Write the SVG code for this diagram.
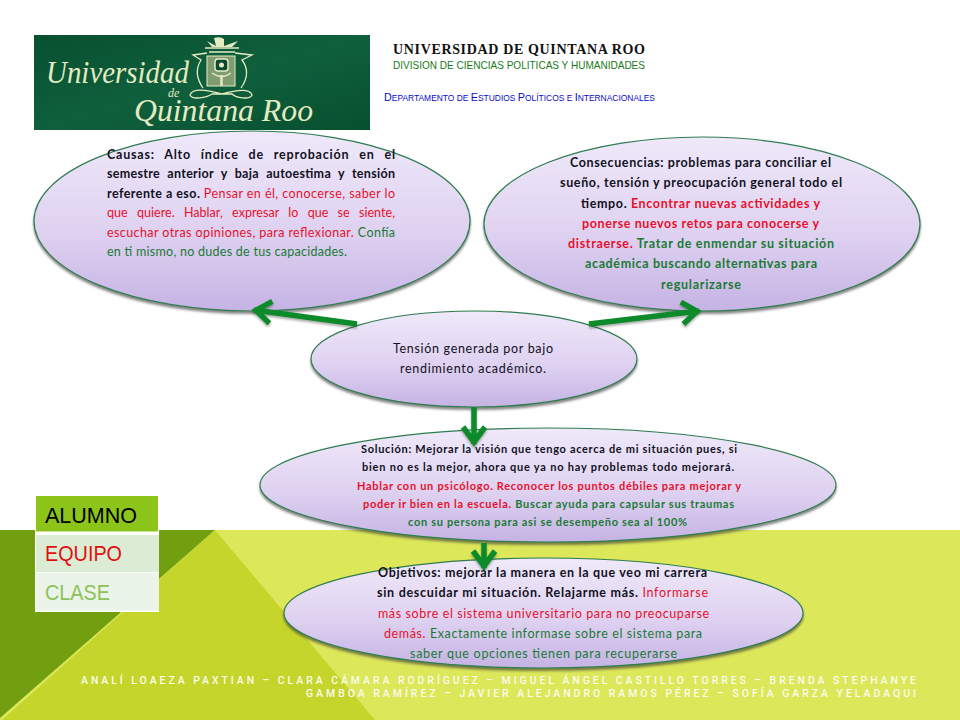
<svg xmlns="http://www.w3.org/2000/svg" width="960" height="720" viewBox="0 0 960 720">
<style>
.t{font-family:"Lato","Noto Sans",sans-serif;font-size:12.5px}
.k{fill:#111122}.r{fill:#e8102c}.g{fill:#1a7a34}
.b{font-weight:700}
.e{fill:url(#lil);stroke:#2f7d50;stroke-width:1.2;filter:url(#sh)}
.cn{fill:none;stroke:#0f8a2c;stroke-width:5.5;marker-end:url(#ah);filter:url(#sa)}
.rowt{font-family:"Liberation Sans",Arial,sans-serif;font-size:21.5px}
.ft{font-family:"Roboto","Liberation Sans",sans-serif;font-size:10.5px;font-weight:500;fill:#fbfbee}
.lg{font-family:"Liberation Serif",serif;font-style:italic;fill:#e4ebc2}
.cr{fill:none;stroke:#e4ebc2;stroke-width:1.3}
</style>
<defs>
<linearGradient id="lil" x1="0" y1="0" x2="0" y2="1"><stop offset="0" stop-color="#efe9fa"/><stop offset=".55" stop-color="#dfd2f1"/><stop offset="1" stop-color="#c5b3e4"/></linearGradient>
<linearGradient id="lgo" x1="0" y1="0" x2="1" y2="1"><stop offset="0" stop-color="#07502f"/><stop offset=".5" stop-color="#0f5f3d"/><stop offset="1" stop-color="#07502f"/></linearGradient>
<filter id="sh" x="-5%" y="-5%" width="110%" height="115%"><feDropShadow dx="0" dy="2.5" stdDeviation="1.3" flood-color="#333" flood-opacity=".6"/></filter>
<filter id="sa" filterUnits="userSpaceOnUse" x="0" y="0" width="960" height="720"><feDropShadow dx="0" dy="2" stdDeviation="1" flood-color="#333" flood-opacity=".4"/></filter>
<marker id="ah" markerUnits="userSpaceOnUse" markerWidth="36" markerHeight="36" refX="28" refY="18" orient="auto"><path d="M11,7 L26,18 L11,29" fill="none" stroke="#0f8a2c" stroke-width="5.500"/></marker>
</defs>
<rect width="960" height="720" fill="#fff"/>
<rect y="530" width="960" height="190" fill="#dce75a"/>
<polygon points="0,530 215,530 0,718" fill="#729f10"/>
<polygon points="215,530 375,720 2,720" fill="#c5d52b"/>

<g id="logo">
<rect x="34" y="35" width="336" height="95" fill="url(#lgo)"/>
<text class="lg" x="46" y="83" font-size="31" textLength="143" lengthAdjust="spacingAndGlyphs">Universidad</text>
<text class="lg" x="168" y="97" font-size="12">de</text>
<text class="lg" x="134" y="121" font-size="32" textLength="179" lengthAdjust="spacingAndGlyphs">Quintana Roo</text>
<path class="cr" d="M205,48 H239 M209,52 H235"/>
<path d="M207,41 L216,46 L214,38 Q220,36 224,39 L224,46 L238,41 L232,47 H212Z" fill="#e4ebc2"/>
<rect x="207" y="56" width="28" height="30" fill="#7f9d70" stroke="#e4ebc2"/>
<rect x="215" y="59" width="13" height="12" rx="3" fill="#0b4a30" stroke="#e4ebc2" stroke-width="1.5"/>
<circle cx="221.500" cy="65" r="2.500" fill="#e4ebc2"/>
<path d="M212,73 Q222,80 231,73" class="cr"/><path d="M221.500,75 V86" stroke="#e4ebc2" stroke-width="2.500"/>
<path class="cr" d="M207,53 L193,55 L201,60 C196,68 196,78 203,88 M235,53 L252,55 L242,60 C248,68 248,78 241,88"/>
<path class="cr" d="M190,95 C192,89 204,89 222,94 C240,89 250,89 252,95 C250,100 236,98 232,94 H212 C206,98 192,100 190,95Z"/>
</g>

<g id="header">
<text x="393" y="54" textLength="252" font-family="'Liberation Serif',serif" font-weight="700" font-size="14" fill="#111">UNIVERSIDAD DE QUINTANA ROO</text>
<text x="393" y="69" textLength="252" lengthAdjust="spacingAndGlyphs" font-family="'Liberation Sans',sans-serif" font-size="10.500" fill="#1a7a1a">DIVISION DE CIENCIAS POLITICAS Y HUMANIDADES</text>
<text x="384" y="101" textLength="271" lengthAdjust="spacingAndGlyphs" font-family="'Liberation Sans',sans-serif" font-size="11.500" fill="#0a0ac8">D<tspan font-size="9">EPARTAMENTO DE </tspan>E<tspan font-size="9">STUDIOS </tspan>P<tspan font-size="9">OLÍTICOS E </tspan>I<tspan font-size="9">NTERNACIONALES</tspan></text>
</g>

<g id="causas">
<ellipse class="e" cx="252" cy="221" rx="218" ry="90"/>
<g class="t">
<text class="k b" x="107" y="159" textLength="288" word-spacing="6">Causas: Alto índice de reprobación en el</text>
<text class="k b" x="107" y="178" textLength="288" word-spacing="4">semestre anterior y baja autoestima y tensión</text>
<text x="107" y="198" textLength="288"><tspan class="k b">referente a eso. </tspan><tspan class="r">Pensar en él, conocerse, saber lo</tspan></text>
<text class="r" x="107" y="217" textLength="288" word-spacing="6">que quiere. Hablar, expresar lo que se siente,</text>
<text x="107" y="237" textLength="288"><tspan class="r">escuchar otras opiniones, para reflexionar. </tspan><tspan class="g">Confía</tspan></text>
<text class="g" x="107" y="256" textLength="240">en ti mismo, no dudes de tus capacidades.</text>
</g>
</g>

<g id="consecuencias">
<ellipse class="e" cx="702" cy="224" rx="218" ry="87"/>
<g class="t b">
<text class="k" x="570" y="167" textLength="261">Consecuencias: problemas para conciliar el</text>
<text class="k" x="560" y="187" textLength="282">sueño, tensión y preocupación general todo el</text>
<text x="581" y="208" textLength="239"><tspan class="k">tiempo. </tspan><tspan class="r">Encontrar nuevas actividades y</tspan></text>
<text class="r" x="582" y="228" textLength="237">ponerse nuevos retos para conocerse y</text>
<text x="568" y="248" textLength="266"><tspan class="r">distraerse. </tspan><tspan class="g">Tratar de enmendar su situación</tspan></text>
<text class="g" x="585" y="268" textLength="232">académica buscando alternativas para</text>
<text class="g" x="661" y="289" textLength="80">regularizarse</text>
</g>
</g>

<g id="tension">
<ellipse class="e" cx="474" cy="359" rx="163" ry="48"/>
<g class="t">
<text class="k" x="393" y="353" textLength="160">Tensión generada por bajo</text>
<text class="k" x="400" y="373" textLength="146">rendimiento académico.</text>
</g>
</g>

<g id="solucion">
<ellipse class="e" cx="548" cy="485" rx="288" ry="57"/>
<g class="t b" style="font-size:11px">
<text class="k" x="361" y="453" textLength="376">Solución: Mejorar la visión que tengo acerca de mi situación pues, si</text>
<text class="k" x="362" y="471" textLength="372">bien no es la mejor, ahora que ya no hay problemas todo mejorará.</text>
<text class="r" x="357" y="490" textLength="384">Hablar con un psicólogo. Reconocer los puntos débiles para mejorar y</text>
<text x="363" y="508" textLength="371"><tspan class="r">poder ir bien en la escuela. </tspan><tspan class="g">Buscar ayuda para capsular sus traumas</tspan></text>
<text class="g" x="408" y="526" textLength="279">con su persona para asi se desempeño sea al 100%</text>
</g>
</g>

<g id="objetivos">
<ellipse class="e" cx="543.500" cy="613" rx="259.500" ry="55"/>
<g class="t">
<text class="k b" x="378" y="577" textLength="329">Objetivos: mejorar la manera en la que veo mi carrera</text>
<text x="377" y="597" textLength="331"><tspan class="k b">sin descuidar mi situación. Relajarme más. </tspan><tspan class="r">Informarse</tspan></text>
<text class="r" x="378" y="618" textLength="331">más sobre el sistema universitario para no preocuparse</text>
<text x="384" y="638" textLength="318"><tspan class="r">demás. </tspan><tspan class="g">Exactamente informase sobre el sistema para</tspan></text>
<text class="g" x="410" y="658" textLength="267">saber que opciones tienen para recuperarse</text>
</g>
</g>

<g id="connectors">
<path class="cn" d="M357,324 L254,310"/>
<path class="cn" d="M589,324 L699,311"/>
<path class="cn" d="M474,407 L474,444"/>
<path class="cn" d="M484,543 L484,568"/>
</g>

<g id="tabla">
<rect x="35" y="495" width="124" height="117" fill="#fff"/>
<rect x="36" y="496" width="122" height="35.500" fill="#8dc41a"/>
<rect x="36" y="535" width="123" height="37" fill="#dcebd4"/>
<rect x="36" y="573" width="123" height="37.500" fill="#ebf4e8"/>
<text class="rowt" x="45" y="523" fill="#000">ALUMNO</text>
<text class="rowt" x="45" y="561" fill="#e01010" textLength="77" lengthAdjust="spacingAndGlyphs">EQUIPO</text>
<text class="rowt" x="45" y="600" fill="#8cc25a" textLength="65" lengthAdjust="spacingAndGlyphs">CLASE</text>
</g>

<g id="autores">
<text class="ft" x="81" y="684" textLength="835">ANALÍ LOAEZA PAXTIAN – CLARA CÁMARA RODRÍGUEZ – MIGUEL ÁNGEL CASTILLO TORRES – BRENDA STEPHANYE</text>
<text class="ft" x="306" y="697" textLength="610">GAMBOA RAMÍREZ – JAVIER ALEJANDRO RAMOS PÉREZ – SOFÍA GARZA YELADAQUI</text>
</g>
</svg>
